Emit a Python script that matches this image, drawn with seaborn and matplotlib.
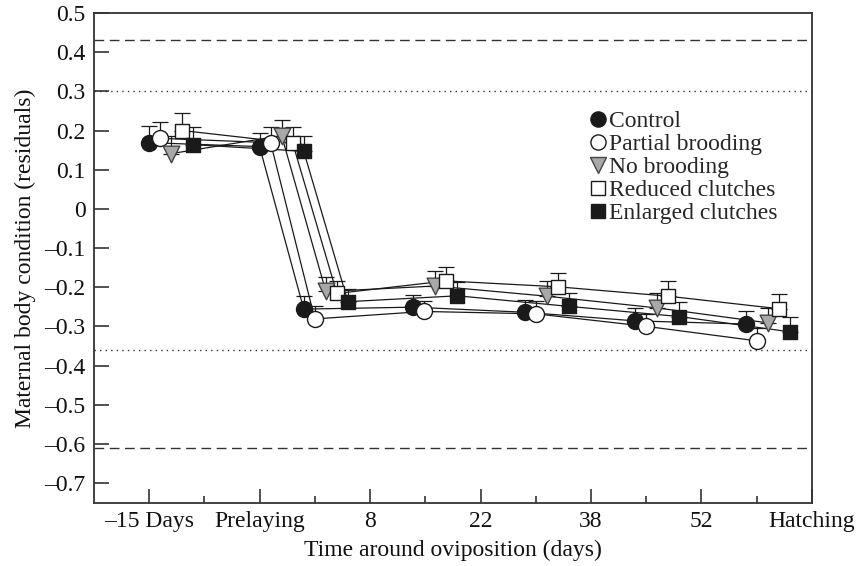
import numpy as np
import pandas as pd
import matplotlib
matplotlib.use("Agg")
import matplotlib.pyplot as plt
import seaborn as sns
from matplotlib.lines import Line2D
from matplotlib.ticker import FixedLocator, FixedFormatter

# ---------------- data ----------------
tick_labels = ["\u201315 Days", "Prelaying", "8", "22", "38", "52", "Hatching"]
sample_pos = [0.0, 1.0, 1.40, 2.39, 3.40, 4.40, 5.40]   # x position of each sampling occasion

series = ["Control", "Partial brooding", "No brooding", "Reduced clutches", "Enlarged clutches"]

control   = [0.169, 0.159, -0.256, -0.251, -0.264, -0.286, -0.294]
partial   = [0.180, 0.169, -0.281, -0.262, -0.268, -0.300, -0.337]
nobrood   = [0.141, 0.187, -0.211, -0.197, -0.223, -0.253, -0.291]
reduced   = [0.200, 0.168, -0.216, -0.184, -0.199, -0.223, -0.255]
enlarged  = [0.164, 0.147, -0.237, -0.222, -0.249, -0.275, -0.314]

control_se  = [0.043, 0.034, 0.034, 0.032, 0.032, 0.034, 0.032]
partial_se  = [0.043, 0.039, 0.032, 0.027, 0.032, 0.031, 0.033]
nobrood_se  = [0.045, 0.040, 0.038, 0.039, 0.039, 0.038, 0.038]
reduced_se  = [0.045, 0.042, 0.031, 0.035, 0.035, 0.038, 0.037]
enlarged_se = [0.044, 0.040, 0.032, 0.034, 0.034, 0.036, 0.037]

ref_dashed = [0.43, -0.61]
ref_dotted = [0.30, -0.36]

y_ticks = [0.5, 0.4, 0.3, 0.2, 0.1, 0.0, -0.1, -0.2, -0.3, -0.4, -0.5, -0.6, -0.7]
y_tick_labels = ["0.5", "0.4", "0.3", "0.2", "0.1", "0", "\u20130.1", "\u20130.2",
                 "\u20130.3", "\u20130.4", "\u20130.5", "\u20130.6", "\u20130.7"]

values = [control, partial, nobrood, reduced, enlarged]
errors = [control_se, partial_se, nobrood_se, reduced_se, enlarged_se]

# ---------------- style ----------------
sns.set_theme(style="ticks")
plt.rcParams["font.family"] = ["Liberation Serif", "DejaVu Serif"]
FS = 17

styles = [
    dict(marker="o", fc="#1a1a1a", ec="#1a1a1a", s=11.5),
    dict(marker="o", fc="white", ec="#1a1a1a", s=11.5),
    dict(marker="v", fc="#a8a8a8", ec="#444444", s=12.0),
    dict(marker="s", fc="white", ec="#1a1a1a", s=10.5),
    dict(marker="s", fc="#1a1a1a", ec="#1a1a1a", s=10.5),
]
offset_step = 0.10

rows = []
for k, name in enumerate(series):
    for i, (v, e) in enumerate(zip(values[k], errors[k])):
        rows.append(dict(series=name, x=sample_pos[i] + k * offset_step, y=v, se=e))
df = pd.DataFrame(rows)

fig = plt.figure(figsize=(8.61, 5.66), dpi=100)
ax = fig.add_axes([0.109, 0.112, 0.834, 0.865])

# connecting lines
for k, name in enumerate(series):
    d = df[df.series == name]
    sns.lineplot(data=d, x="x", y="y", ax=ax, color="#1a1a1a", lw=0.9,
                 sort=False, estimator=None, zorder=2, legend=False)

# upper-only error bars
for k, name in enumerate(series):
    d = df[df.series == name]
    ax.errorbar(d.x, d.y, yerr=[np.zeros(len(d)), d.se], fmt="none",
                ecolor="#1a1a1a", elinewidth=0.9, capsize=6, capthick=0.9, zorder=3)

# markers
handles = []
for k, name in enumerate(series):
    d = df[df.series == name]
    st = styles[k]
    sns.scatterplot(data=d, x="x", y="y", ax=ax, marker=st["marker"],
                    s=st["s"] ** 2, color=st["fc"], edgecolor=st["ec"],
                    linewidth=1.0, zorder=4 + k, legend=False)
    handles.append(Line2D([], [], linestyle="none", marker=st["marker"],
                          markersize=st["s"] * 0.95, markerfacecolor=st["fc"],
                          markeredgecolor=st["ec"], markeredgewidth=1.0))

# reference lines
for yv in ref_dashed:
    ax.axhline(yv, color="#333333", lw=1.0, ls=(0, (7, 4)), zorder=1)
for yv in ref_dotted:
    ax.axhline(yv, color="#333333", lw=1.0, ls=(0, (1, 3)), zorder=1)

# axes
ax.set_xlim(-0.5, 6.0)
ax.set_ylim(-0.75, 0.5)
ax.xaxis.set_major_locator(FixedLocator(list(range(len(tick_labels)))))
ax.xaxis.set_major_formatter(FixedFormatter(tick_labels))
ax.xaxis.set_minor_locator(FixedLocator([i + 0.5 for i in range(len(tick_labels) - 1)]))
ax.yaxis.set_major_locator(FixedLocator(y_ticks))
ax.yaxis.set_major_formatter(FixedFormatter(y_tick_labels))

ax.tick_params(axis="x", which="major", direction="in", length=10, width=1.1,
               labelsize=FS, pad=6, colors="#222222", labelcolor="#111111")
ax.tick_params(axis="x", which="minor", direction="in", length=5, width=1.1, colors="#222222")
ax.tick_params(axis="y", which="major", direction="in", length=11, width=1.1,
               labelsize=FS, pad=6, colors="#222222", labelcolor="#111111")
for sp in ax.spines.values():
    sp.set_visible(True)
    sp.set_linewidth(1.3)
    sp.set_color("#333333")

ax.set_xlabel("Time around oviposition (days)", fontsize=FS, color="#111111", labelpad=6)
ax.set_ylabel("Maternal body condition (residuals)", fontsize=FS, color="#111111", labelpad=6)

leg = ax.legend(handles, series, loc="upper left", bbox_to_anchor=(0.69, 0.80),
                frameon=False, fontsize=FS, handlelength=0.7, handletextpad=0.15,
                labelspacing=0.06, borderaxespad=0, borderpad=0)

fig.savefig("out.png", dpi=100)
